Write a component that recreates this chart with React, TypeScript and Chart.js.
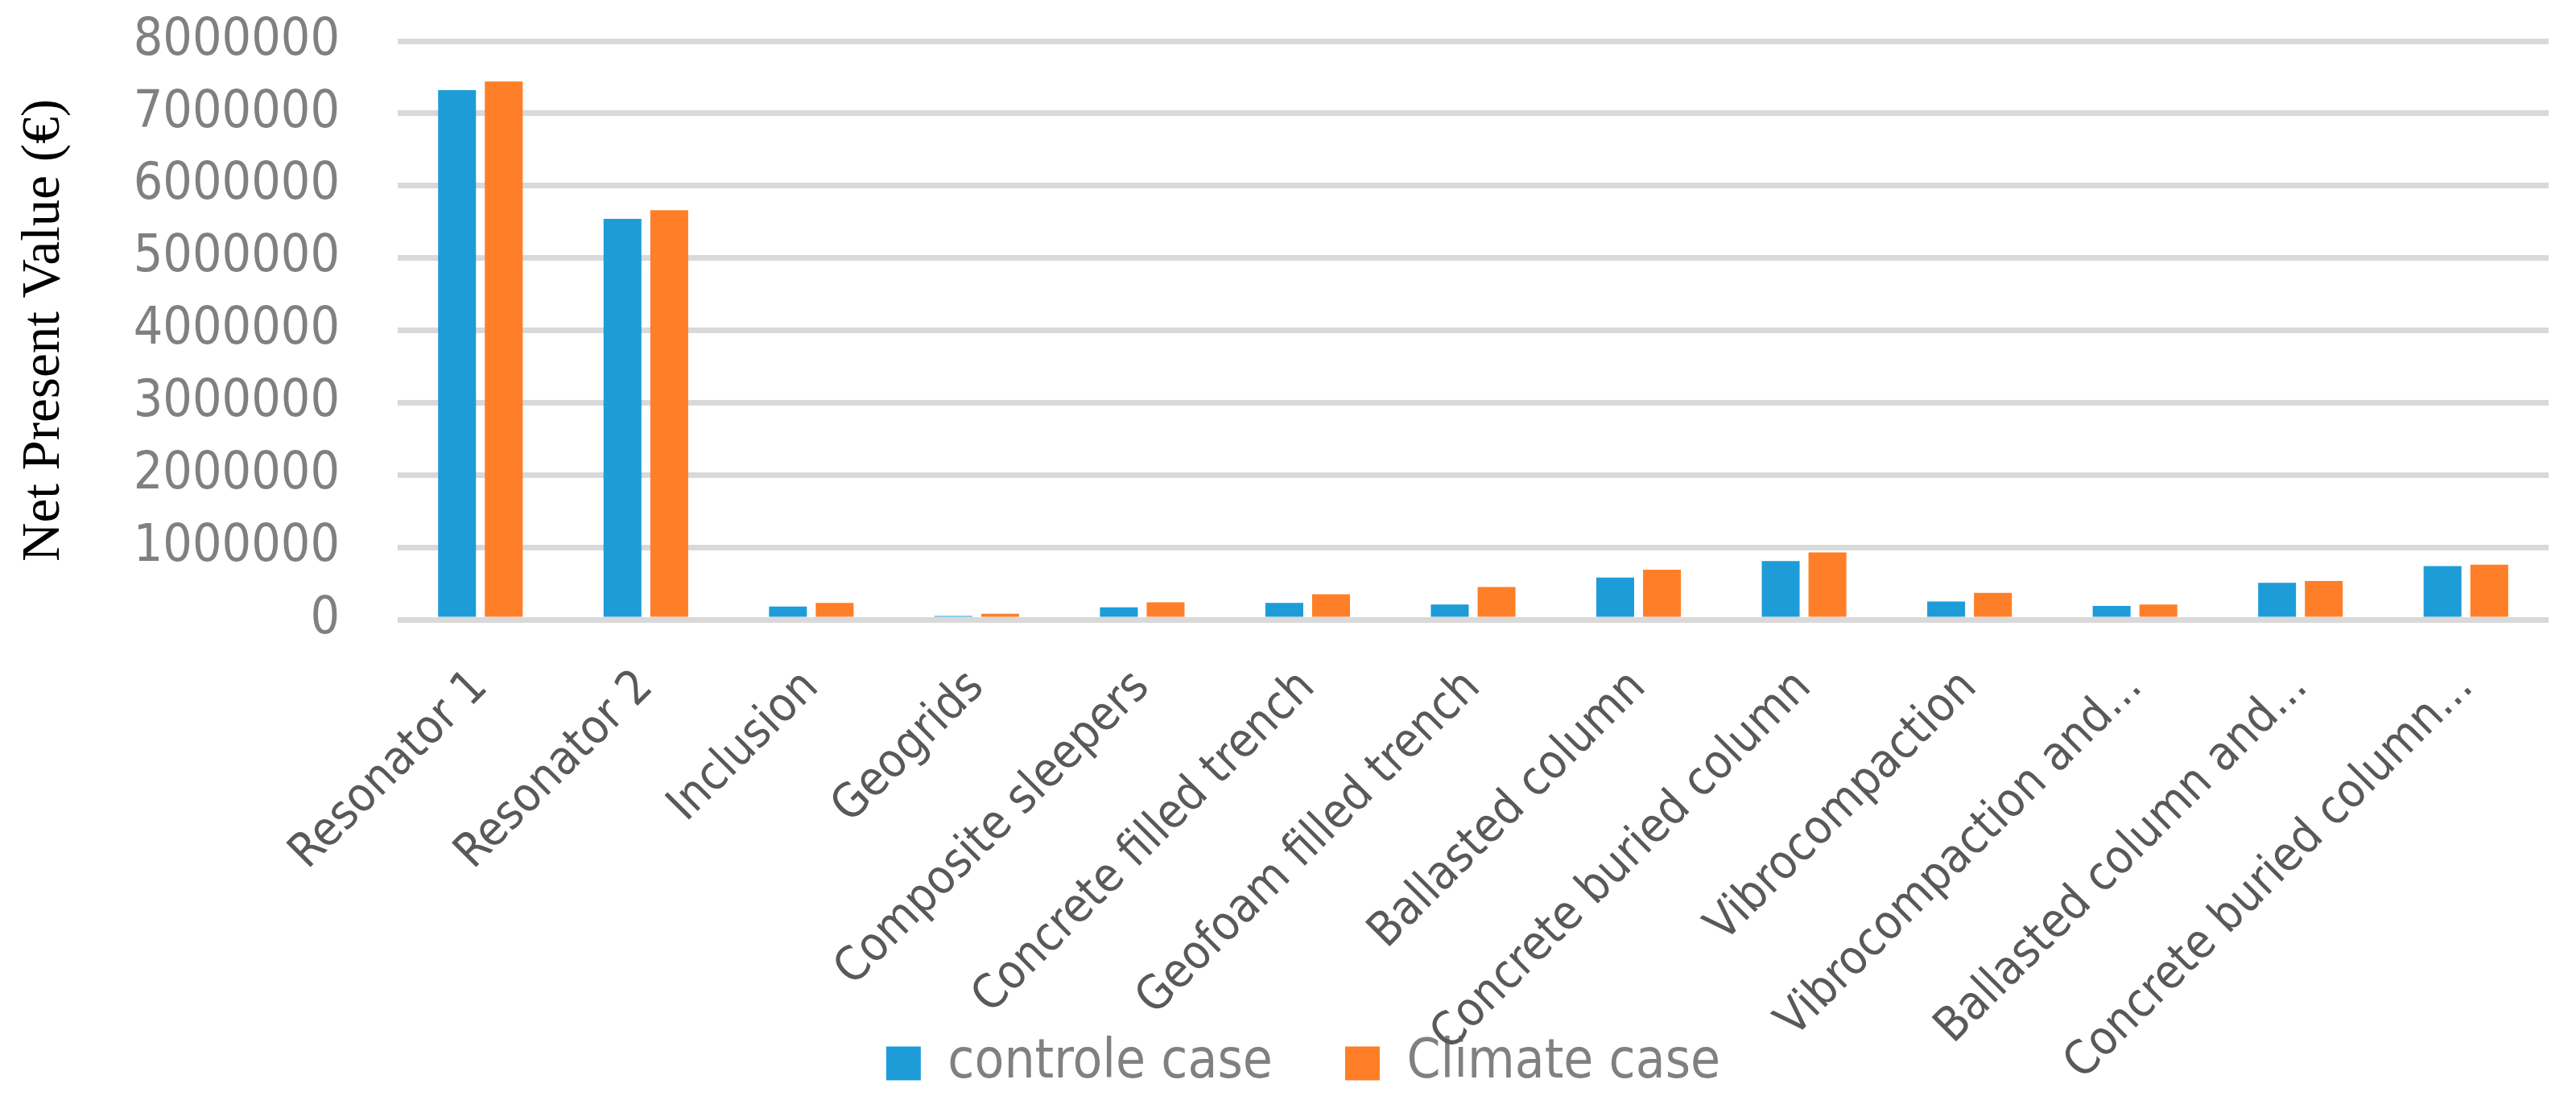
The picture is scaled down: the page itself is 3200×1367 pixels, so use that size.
import { useEffect, useRef } from 'react';
import Chart from 'chart.js/auto';

const categories = [
  'Resonator 1',
  'Resonator 2',
  'Inclusion',
  'Geogrids',
  'Composite sleepers',
  'Concrete filled trench',
  'Geofoam filled trench',
  'Ballasted column',
  'Concrete buried column',
  'Vibrocompaction',
  'Vibrocompaction and...',
  'Ballasted column and...',
  'Concrete buried column...',
];

const controleCase = [7320000, 5540000, 180000, 50000, 170000, 230000, 210000, 580000, 810000, 250000, 190000, 510000, 740000];
const climateCase = [7440000, 5660000, 230000, 80000, 240000, 350000, 450000, 690000, 930000, 370000, 210000, 535000, 760000];

const yMax = 8000000;
const yStep = 1000000;

const BLUE = '#1e9cd7';
const ORANGE = '#fe7f27';
const SANS = '"DejaVu Sans Condensed", "Noto Sans", sans-serif';

// long rotated labels run down into the legend row, like in the original figure
const unclipLabels = {
  id: 'unclipLabels',
  afterLayout(chart: any) {
    chart.scales.x.bottom = chart.height;
  },
};

export default function App() {
  const canvasRef = useRef<HTMLCanvasElement>(null);
  const chartRef = useRef<Chart | null>(null);

  useEffect(() => {
    document.body.style.margin = '0';
    if (!canvasRef.current) return;
    if (chartRef.current) chartRef.current.destroy();

    chartRef.current = new Chart(canvasRef.current, {
      type: 'bar',
      data: {
        labels: categories,
        datasets: [
          { label: 'controle case', data: controleCase, backgroundColor: BLUE, barPercentage: 0.81, categoryPercentage: 0.565 },
          { label: 'Climate case', data: climateCase, backgroundColor: ORANGE, barPercentage: 0.81, categoryPercentage: 0.565 },
        ],
      },
      options: {
        animation: false,
        responsive: true,
        maintainAspectRatio: false,
        devicePixelRatio: 1,
        layout: { padding: { left: 72, right: 34, top: 51, bottom: 2 } },
        plugins: {
          tooltip: { enabled: false },
          legend: {
            position: 'bottom',
            labels: {
              boxWidth: 43,
              boxHeight: 42,
              padding: 90,
              color: '#808080',
              font: { family: SANS, size: 67 },
            },
          },
        },
        scales: {
          x: {
            grid: { display: false },
            border: { display: false },
            ticks: {
              autoSkip: false,
              minRotation: 45,
              maxRotation: 45,
              padding: 42,
              color: '#595959',
              font: { family: SANS, size: 59 },
            },
            afterFit: (scale: any) => {
              scale.height = 428;
            },
          },
          y: {
            min: 0,
            max: yMax,
            grid: { color: '#d9d9d9', lineWidth: 7, drawTicks: false },
            border: { display: false },
            ticks: {
              stepSize: yStep,
              padding: 72,
              color: '#808080',
              font: { family: SANS, size: 64 },
              callback: (v: any) => String(v),
            },
            title: {
              display: true,
              text: 'Net Present Value (€)',
              color: '#000000',
              padding: { top: -57, bottom: 0 },
              font: { family: '"Liberation Serif", "Times New Roman", serif', size: 67 },
            },
            afterFit: (scale: any) => {
              scale.width = 422;
              scale.paddingTop = 0;
              scale.paddingBottom = 0;
            },
          },
        },
      },
      plugins: [unclipLabels],
    });

    return () => {
      if (chartRef.current) {
        chartRef.current.destroy();
        chartRef.current = null;
      }
    };
  }, []);

  return (
    <div style={{ width: 3200, height: 1367, position: 'relative' }}>
      <canvas ref={canvasRef} />
    </div>
  );
}
